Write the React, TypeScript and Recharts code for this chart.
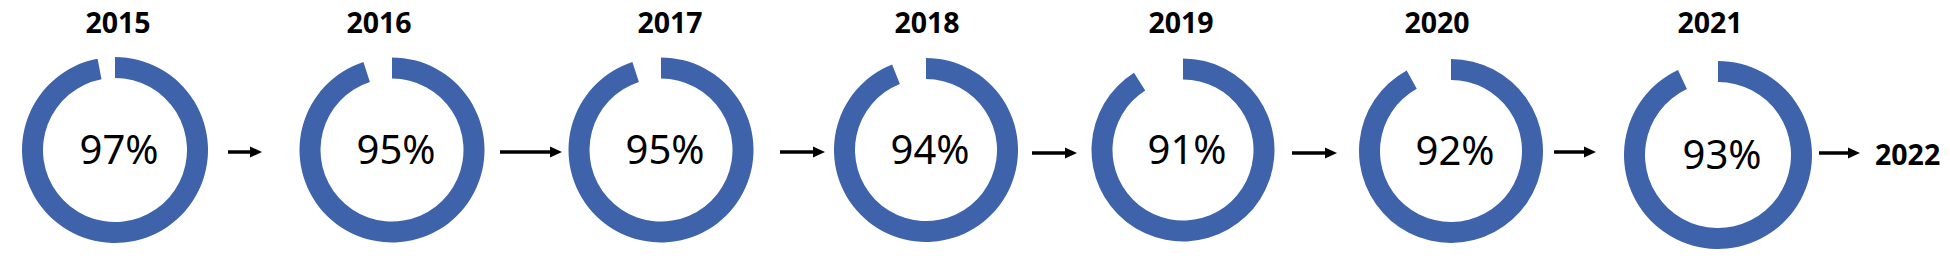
import React from "react";
import { PieChart, Pie, Cell, Customized } from "recharts";

const years = ["2015", "2016", "2017", "2018", "2019", "2020", "2021"];
const rates = [97, 95, 95, 94, 91, 92, 93];
const nextYear = "2022";

// layout (pixels)
const centersX = [115, 392, 661, 926, 1183, 1451, 1718];
const centersY = [150, 150, 150, 150, 150, 151, 155];
const outerRadii = [93, 92.5, 92.5, 92, 91.5, 92, 94];
const yearLabelX = [118, 379, 670, 927, 1181, 1437, 1710];
const arrowSpans = [
  [228, 262],
  [500, 562],
  [780, 825],
  [1032, 1077],
  [1292, 1337],
  [1554, 1596],
  [1819, 1860],
];
const arrowY = [152, 152, 152, 153, 153, 152, 153];

const WIDTH = 1950;
const HEIGHT = 265;
const BLUE = "#3E63AA";
const FONT = "'Noto Sans', 'Open Sans', sans-serif";
const RING = 21;

const Overlay = () => (
  <g>
    {years.map((year, i) => (
      <text
        key={year}
        x={yearLabelX[i]}
        y={33}
        textAnchor="middle"
        fontFamily={FONT}
        fontWeight={700}
        fontSize={28.5}
        fill="#000"
      >
        {year}
      </text>
    ))}
    {rates.map((rate, i) => (
      <text
        key={`rate-${i}`}
        x={centersX[i] + 4}
        y={centersY[i] + 13.5}
        textAnchor="middle"
        fontFamily={FONT}
        fontSize={40}
        fill="#000"
      >
        {`${rate}%`}
      </text>
    ))}
    {arrowSpans.map(([x1, x2], i) => {
      const y = arrowY[i];
      return (
        <g key={`arrow-${i}`}>
          <line x1={x1} y1={y} x2={x2 - 10} y2={y} stroke="#000" strokeWidth={3.5} />
          <polygon points={`${x2},${y} ${x2 - 12},${y - 5.5} ${x2 - 12},${y + 5.5}`} fill="#000" />
        </g>
      );
    })}
    <text
      x={1875}
      y={165}
      fontFamily={FONT}
      fontWeight={700}
      fontSize={28.5}
      fill="#000"
    >
      {nextYear}
    </text>
  </g>
);

export default function App() {
  return (
    <div style={{ position: "absolute", left: 0, top: 0, background: "#fff" }}>
      <PieChart width={WIDTH} height={HEIGHT} margin={{ top: 0, right: 0, bottom: 0, left: 0 }}>
        {years.map((year, i) => {
          const data = [
            { name: "done", value: rates[i] },
            { name: "rest", value: 100 - rates[i] },
          ];
          return (
            <Pie
              key={year}
              data={data}
              dataKey="value"
              cx={centersX[i]}
              cy={centersY[i]}
              innerRadius={outerRadii[i] - RING}
              outerRadius={outerRadii[i]}
              startAngle={90}
              endAngle={-270}
              stroke="none"
              isAnimationActive={false}
            >
              <Cell fill={BLUE} />
              <Cell fill="none" />
            </Pie>
          );
        })}
        <Customized component={Overlay} />
      </PieChart>
    </div>
  );
}
